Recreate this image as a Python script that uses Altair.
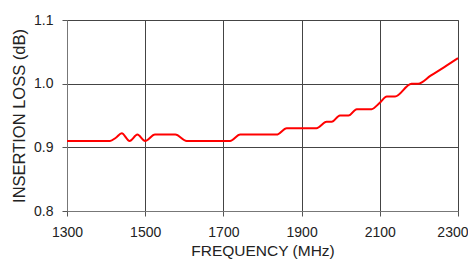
import altair as alt
import pandas as pd

freq = [1300, 1410, 1425, 1440, 1460, 1480, 1500, 1525, 1577, 1606, 1717, 1743,
        1836, 1862, 1938, 1964, 1977, 1998, 2020, 2041, 2079, 2100, 2118, 2139,
        2181, 2198, 2230, 2265, 2300]
loss = [0.91, 0.91, 0.915, 0.922, 0.91, 0.92, 0.91, 0.92, 0.92, 0.91, 0.91, 0.92,
        0.92, 0.93, 0.93, 0.94, 0.94, 0.95, 0.95, 0.96, 0.96, 0.97, 0.98, 0.98,
        1.0, 1.0, 1.0125, 1.026, 1.04]
x_ticks = [1300, 1500, 1700, 1900, 2100, 2300]
y_ticks = [0.8, 0.9, 1.0, 1.1]

df = pd.DataFrame({"f": freq, "v": loss})

chart = alt.Chart(df).mark_line(color="#ff0000", strokeWidth=2, interpolate="monotone").encode(
    x=alt.X("f:Q", scale=alt.Scale(domain=[1300, 2300], nice=False),
            axis=alt.Axis(values=x_ticks, title="FREQUENCY (MHz)", format="d",
                          labelFlush=False, labelOverlap=False,
                          labelAlign={"condition": {"test": "datum.value == 2300", "value": "right"},
                                      "value": "center"},
                          labelOffset={"condition": {"test": "datum.value == 2300", "value": 10},
                                       "value": 0},
                          labelPadding=9, titlePadding=4, titleFontSize=15.5)),
    y=alt.Y("v:Q", scale=alt.Scale(domain=[0.8, 1.1], nice=False, zero=False),
            axis=alt.Axis(values=y_ticks, title="INSERTION LOSS (dB)", format=".1f",
                          labelFlush=False, labelOverlap=False,
                          labelPadding=9, titlePadding=6, titleFontSize=16.5)),
).properties(
    width=391, height=191,
    autosize=alt.AutoSizeParams(type="none"),
    padding={"left": 59, "top": 12, "right": 10, "bottom": 48},
).configure_axis(
    labelFont="Liberation Sans", titleFont="Liberation Sans",
    labelFontSize=14, titleFontWeight="normal",
    labelColor="#222222", titleColor="#222222",
    gridColor="#444444", gridOpacity=1, gridWidth=1,
    domainColor="#777777", tickColor="#555555", tickSize=5,
).configure_view(stroke="#777777", strokeWidth=1)

chart.save("out.html", embed_options={"renderer": "svg", "actions": False})
